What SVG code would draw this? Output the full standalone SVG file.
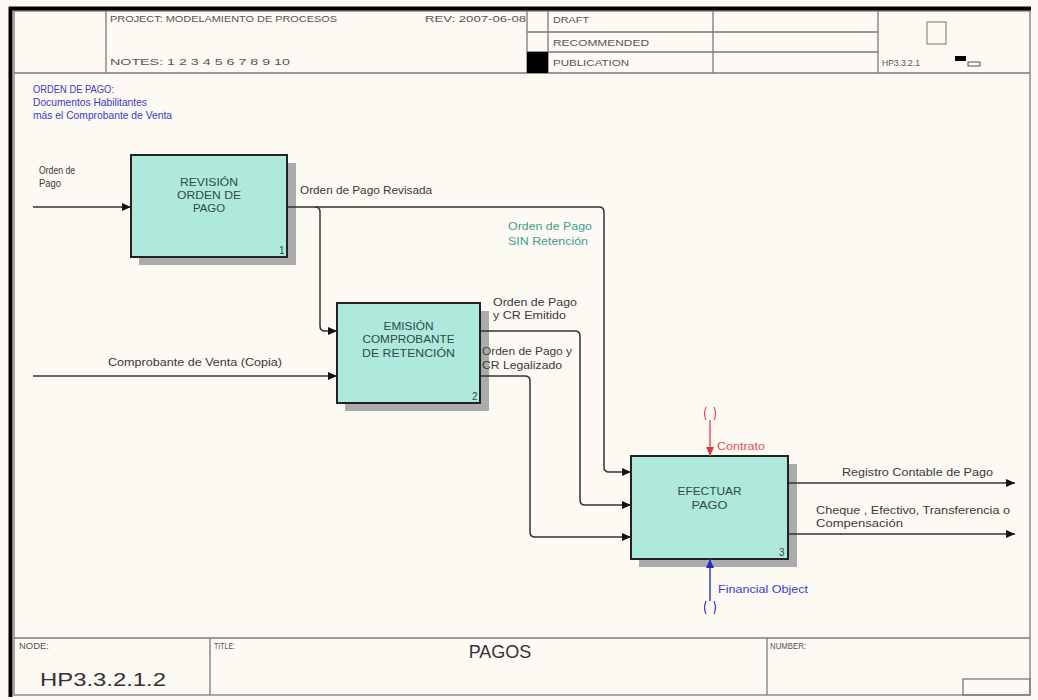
<svg xmlns="http://www.w3.org/2000/svg" width="1038" height="700" viewBox="0 0 1038 700">
<style>
  text { font-family: "Liberation Sans", Arial, sans-serif; }
  .hdr { font-size: 9.5px; fill: #555; }
  .lbl { font-size: 10.5px; fill: #3a3a3a; }
  .box { fill: #aee9dc; stroke: #222; stroke-width: 2; }
  .shd { fill: #ababab; }
  .btxt { font-size: 11px; fill: #2e4a48; text-anchor: middle; }
  .num { font-size: 10px; fill: #2e4a48; }
  .grid { stroke: #7a7a7a; stroke-width: 1.3; fill: none; }
  .conn { stroke: #333; stroke-width: 1.5; fill: none; }
</style>
<defs>
  <marker id="ah" markerUnits="userSpaceOnUse" markerWidth="9" markerHeight="8" refX="9" refY="4" orient="auto">
    <path d="M0,0 L9,4 L0,8 z" fill="#111"/>
  </marker>
  <marker id="ahr" markerUnits="userSpaceOnUse" markerWidth="9" markerHeight="8" refX="9" refY="4" orient="auto">
    <path d="M0,0 L9,4 L0,8 z" fill="#d83a3a"/>
  </marker>
  <marker id="ahb" markerUnits="userSpaceOnUse" markerWidth="9" markerHeight="8" refX="9" refY="4" orient="auto">
    <path d="M0,0 L9,4 L0,8 z" fill="#2a2acc"/>
  </marker>
</defs>

<rect x="0" y="0" width="1038" height="700" fill="#fdf9f3"/>

<g id="frame">
  <rect x="14" y="11" width="1016" height="684" class="grid"/>
  <line x1="9" y1="8.5" x2="1031" y2="8.5" stroke="#000" stroke-width="4"/>
  <line x1="10.5" y1="7" x2="10.5" y2="697" stroke="#000" stroke-width="4"/>
  <line x1="14" y1="73" x2="1030" y2="73" class="grid"/>
  <line x1="106" y1="11" x2="106" y2="73" class="grid"/>
  <line x1="527" y1="11" x2="527" y2="73" class="grid"/>
  <line x1="548" y1="11" x2="548" y2="73" class="grid"/>
  <line x1="713" y1="11" x2="713" y2="73" class="grid"/>
  <line x1="878" y1="11" x2="878" y2="73" class="grid"/>
  <line x1="527" y1="32" x2="878" y2="32" class="grid"/>
  <line x1="527" y1="52" x2="878" y2="52" class="grid"/>
  <rect x="527" y="52" width="21" height="21" fill="#000"/>
  <text x="110" y="22" class="hdr" textLength="227" lengthAdjust="spacingAndGlyphs">PROJECT:  MODELAMIENTO DE PROCESOS</text>
  <text x="425" y="22" class="hdr" textLength="101" lengthAdjust="spacingAndGlyphs">REV:   2007-06-08</text>
  <text x="110" y="65" class="hdr" textLength="180" lengthAdjust="spacingAndGlyphs">NOTES:  1  2  3  4  5  6  7  8  9  10</text>
  <text x="553" y="23" class="hdr" textLength="36" lengthAdjust="spacingAndGlyphs">DRAFT</text>
  <text x="553" y="46" class="hdr" textLength="96" lengthAdjust="spacingAndGlyphs">RECOMMENDED</text>
  <text x="553" y="66" class="hdr" textLength="76" lengthAdjust="spacingAndGlyphs">PUBLICATION</text>
  <text x="882" y="66" class="hdr" textLength="38" lengthAdjust="spacingAndGlyphs">HP3.3.2.1</text>
  <rect x="927" y="22" width="19" height="22" fill="none" stroke="#777" stroke-width="1"/>
  <rect x="955" y="56" width="11" height="5" fill="#000"/>
  <rect x="968" y="62" width="12" height="4" fill="none" stroke="#555" stroke-width="1"/>
  <line x1="14" y1="638" x2="1030" y2="638" class="grid"/>
  <line x1="210" y1="638" x2="210" y2="695" class="grid"/>
  <line x1="767" y1="638" x2="767" y2="695" class="grid"/>
  <rect x="963" y="679" width="67" height="16" class="grid"/>
  <text x="19" y="649" class="hdr" font-size="9px" textLength="30" lengthAdjust="spacingAndGlyphs">NODE:</text>
  <text x="214" y="649" class="hdr" font-size="9px" textLength="21" lengthAdjust="spacingAndGlyphs">TITLE:</text>
  <text x="770" y="649" class="hdr" font-size="9px" textLength="36" lengthAdjust="spacingAndGlyphs">NUMBER:</text>
  <text x="40" y="686" font-size="19px" fill="#333" textLength="126" lengthAdjust="spacingAndGlyphs">HP3.3.2.1.2</text>
  <text x="500" y="658" font-size="18px" fill="#333" text-anchor="middle">PAGOS</text>
</g>

<g id="note">
  <text x="33" y="93" font-size="10.5px" fill="#3a3acc" textLength="81" lengthAdjust="spacingAndGlyphs">ORDEN DE PAGO:</text>
  <text x="33" y="106" font-size="10.5px" fill="#3a3acc" textLength="114" lengthAdjust="spacingAndGlyphs">Documentos Habilitantes</text>
  <text x="33" y="119" font-size="10.5px" fill="#3a3acc" textLength="139" lengthAdjust="spacingAndGlyphs">más el Comprobante de Venta</text>
</g>

<g id="node1">
  <rect x="139" y="163" width="157" height="102" class="shd"/>
  <rect x="131" y="155" width="156" height="102" class="box"/>
  <text x="209" y="186" class="btxt" textLength="58" lengthAdjust="spacingAndGlyphs">REVISIÓN</text>
  <text x="209" y="199" class="btxt" textLength="64" lengthAdjust="spacingAndGlyphs">ORDEN DE</text>
  <text x="209" y="212" class="btxt" textLength="32" lengthAdjust="spacingAndGlyphs">PAGO</text>
  <text x="279" y="254" class="num">1</text>
</g>

<g id="node2">
  <rect x="345" y="311" width="144" height="100" class="shd"/>
  <rect x="337" y="303" width="143" height="100" class="box"/>
  <text x="408.5" y="330" class="btxt" textLength="50" lengthAdjust="spacingAndGlyphs">EMISIÓN</text>
  <text x="408.5" y="343" class="btxt" textLength="92" lengthAdjust="spacingAndGlyphs">COMPROBANTE</text>
  <text x="408.5" y="357" class="btxt" textLength="93" lengthAdjust="spacingAndGlyphs">DE RETENCIÓN</text>
  <text x="472" y="400" class="num">2</text>
</g>

<g id="node3">
  <rect x="639" y="464" width="158" height="103" class="shd"/>
  <rect x="631" y="456" width="157" height="103" class="box"/>
  <text x="709.5" y="495" class="btxt" textLength="64" lengthAdjust="spacingAndGlyphs">EFECTUAR</text>
  <text x="709.5" y="509" class="btxt" textLength="36" lengthAdjust="spacingAndGlyphs">PAGO</text>
  <text x="779" y="556" class="num">3</text>
</g>

<g id="connectors">
  <path class="conn" d="M33,207 H131" marker-end="url(#ah)"/>
  <path class="conn" d="M288,207 H599 q5,0 5,5 V467 q0,5 5,5 H631" marker-end="url(#ah)"/>
  <path class="conn" d="M315,207 q5,0 5,5 V326 q0,5 5,5 H337" marker-end="url(#ah)"/>
  <path class="conn" d="M33,376 H337" marker-end="url(#ah)"/>
  <path class="conn" d="M481,331 H575 q5,0 5,5 V500 q0,5 5,5 H631" marker-end="url(#ah)"/>
  <path class="conn" d="M481,376 H525 q5,0 5,5 V532 q0,5 5,5 H631" marker-end="url(#ah)"/>
  <path d="M710,420 V456" stroke="#e05555" stroke-width="1.5" fill="none" marker-end="url(#ahr)"/>
  <path d="M706,407 q-3,6.5 0,13 M714,407 q3,6.5 0,13" stroke="#e05555" stroke-width="1.2" fill="none"/>
  <path d="M710,601 V559" stroke="#3b3bd6" stroke-width="1.5" fill="none" marker-end="url(#ahb)"/>
  <path d="M706,601 q-3,6.5 0,13 M714,601 q3,6.5 0,13" stroke="#3b3bd6" stroke-width="1.2" fill="none"/>
  <path class="conn" d="M789,483 H1015" marker-end="url(#ah)"/>
  <path class="conn" d="M789,534 H1015" marker-end="url(#ah)"/>

  <text x="39" y="174" class="lbl" textLength="36" lengthAdjust="spacingAndGlyphs">Orden de</text>
  <text x="39" y="187" class="lbl" textLength="22" lengthAdjust="spacingAndGlyphs">Pago</text>
  <text x="300" y="194" class="lbl" textLength="132" lengthAdjust="spacingAndGlyphs">Orden de Pago Revisada</text>
  <text x="508" y="230" class="lbl" style="fill:#3f9f8f" textLength="84" lengthAdjust="spacingAndGlyphs">Orden de Pago</text>
  <text x="508" y="245" class="lbl" style="fill:#3f9f8f" textLength="80" lengthAdjust="spacingAndGlyphs">SIN Retención</text>
  <text x="108" y="366" class="lbl" textLength="174" lengthAdjust="spacingAndGlyphs">Comprobante de Venta (Copia)</text>
  <text x="493" y="306" class="lbl" textLength="84" lengthAdjust="spacingAndGlyphs">Orden de Pago</text>
  <text x="493" y="319" class="lbl" textLength="73" lengthAdjust="spacingAndGlyphs">y CR Emitido</text>
  <text x="482" y="355" class="lbl" textLength="90" lengthAdjust="spacingAndGlyphs">Orden de Pago y</text>
  <text x="482" y="369" class="lbl" textLength="80" lengthAdjust="spacingAndGlyphs">CR Legalizado</text>
  <text x="717" y="450" class="lbl" style="fill:#e05555" textLength="48" lengthAdjust="spacingAndGlyphs">Contrato</text>
  <text x="718" y="593" class="lbl" style="fill:#3b3bd6" textLength="90" lengthAdjust="spacingAndGlyphs">Financial Object</text>
  <text x="842" y="476" class="lbl" textLength="151" lengthAdjust="spacingAndGlyphs">Registro Contable de Pago</text>
  <text x="816" y="514" class="lbl" textLength="194" lengthAdjust="spacingAndGlyphs">Cheque , Efectivo, Transferencia  o</text>
  <text x="816" y="527" class="lbl" textLength="87" lengthAdjust="spacingAndGlyphs">Compensación</text>
</g>
</svg>
